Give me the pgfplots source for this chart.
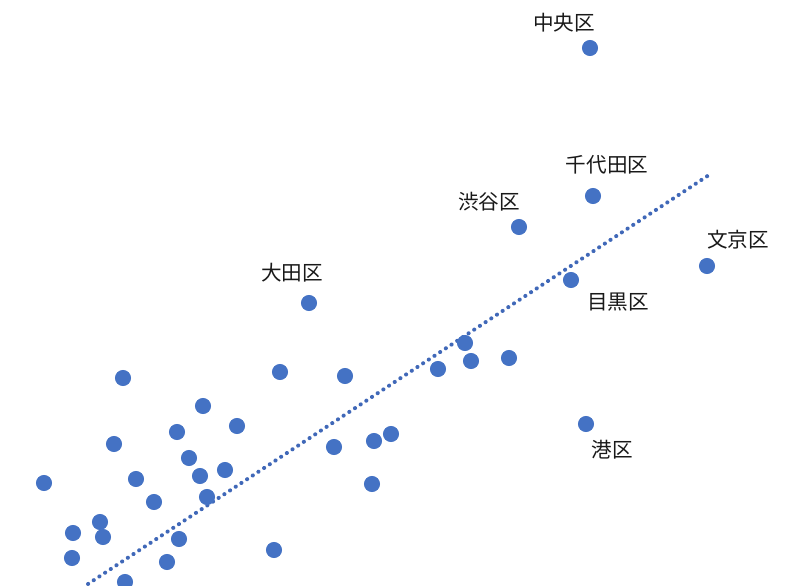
\documentclass[border=0pt]{standalone}
\usepackage{pgfplots}
\pgfplotsset{compat=1.18}
\usepackage{fontspec}
\newfontfamily\cjk{Noto Sans CJK JP}
\definecolor{dotblue}{HTML}{4472C4}
\definecolor{trendblue}{HTML}{4068B8}

\begin{document}
\begin{tikzpicture}
\begin{axis}[
    scale only axis,
    width=405pt,
    height=292.5pt,
    xmin=0, xmax=810,
    ymin=0, ymax=585,
    hide axis,
    clip=true,
]
% trend line
\addplot[trendblue, line width=2pt, line cap=round, dash pattern=on 0.1pt off 3.3pt]
    coordinates {(88,1) (712,412)};

% wards
\addplot[only marks, mark=*, mark size=3.8pt, mark options={fill=dotblue, draw=dotblue}]
    coordinates {
    (590,537) (593,389) (519,358) (707,319) (571,305) (309,282)
    (465,242) (471,224) (509,227) (438,216) (280,213) (345,209)
    (123,207) (203,179) (237,159) (177,153) (586,161) (391,151)
    (374,144) (334,138) (114,141) (189,127) (225,115) (200,109)
    (136,106) (44,102) (372,101) (207,88) (154,83) (100,63)
    (73,52) (103,48) (179,46) (72,27) (274,35) (167,23) (125,3)
    };

\begin{scope}[every node/.style={font=\cjk\fontsize{10.3}{12}\selectfont, text=black!90}]
\node at (axis cs:564,562) {中央区};
\node at (axis cs:607,420) {千代田区};
\node at (axis cs:489,383) {渋谷区};
\node at (axis cs:738,345) {文京区};
\node at (axis cs:618,283) {目黒区};
\node at (axis cs:612,135) {港区};
\node at (axis cs:292,312) {大田区};
\end{scope}

\coordinate (sw) at (rel axis cs:0,0);
\coordinate (ne) at (rel axis cs:1,1);
\end{axis}
\pgfresetboundingbox
\useasboundingbox (sw) rectangle (ne);
\end{tikzpicture}
\end{document}
